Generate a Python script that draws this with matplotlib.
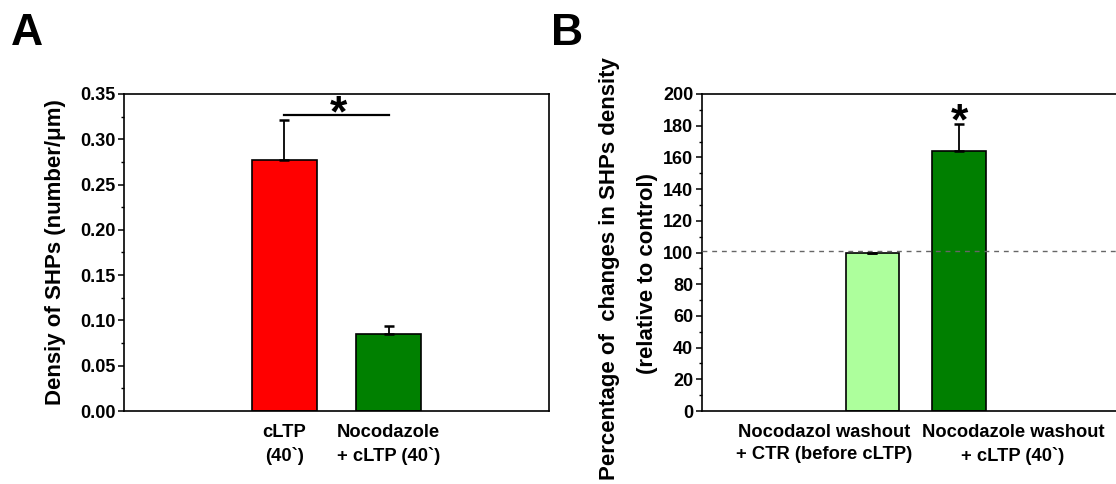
import matplotlib.pyplot as plt
import matplotlib.transforms as mtransforms
from matplotlib.ticker import MultipleLocator

# panel A data
a_labels = ["cLTP\n(40`)", "Nocodazole\n+ cLTP (40`)"]
a_values = [0.277, 0.085]
a_errors = [0.044, 0.009]
a_colors = ["#ff0000", "#008000"]
a_sig_level = 0.327

# panel B data
b_labels = ["Nocodazol washout\n+ CTR (before cLTP)", "Nocodazole washout\n+ cLTP (40`)"]
b_values = [100, 164]
b_errors = [0, 17]
b_colors = ["#adff9c", "#007f00"]
b_reference = 101

W, H = 1116, 484
plt.rcParams['font.family'] = ['Liberation Sans', 'DejaVu Sans']
plt.rcParams['font.weight'] = 'bold'

fig = plt.figure(figsize=(W / 100, H / 100), dpi=100)


def px_axes(left, top, right, bottom):
    return fig.add_axes([left / W, 1 - bottom / H, (right - left) / W, (bottom - top) / H])


def style_axes(ax, minor):
    for sp in ax.spines.values():
        sp.set_linewidth(1.2)
    ax.yaxis.set_minor_locator(MultipleLocator(minor))
    ax.tick_params(axis='y', which='major', direction='out', length=4, width=1.1,
                   labelsize=13, pad=2)
    ax.tick_params(axis='y', which='minor', direction='out', length=2.2, width=1.0)
    ax.tick_params(axis='x', which='both', length=0)
    ax.set_xticks([])
    for t in ax.get_yticklabels():
        t.set_fontweight('bold')


def draw_bars(ax, pos, values, errors, colors):
    ax.bar(pos, values, width=0.62, color=colors, edgecolor='black', linewidth=1.2, zorder=2)
    ax.errorbar(pos, values, yerr=[[0] * len(errors), errors], fmt='none', ecolor='black',
                elinewidth=1.3, capsize=3.5, capthick=1.8, zorder=3)


def star(ax, x, y, dy_pts):
    # asterisk placed just above (x, y), shifted by dy_pts points
    ax.annotate("*", (x, y), xytext=(0, dy_pts), textcoords='offset points',
                ha='center', va='baseline', fontsize=32, fontweight='bold')


def category_labels(ax, xs, labels):
    tr = mtransforms.blended_transform_factory(ax.transData, ax.transAxes)
    for x, lab in zip(xs, labels):
        ax.text(x, -0.04, lab, transform=tr, ha='center', va='top', fontsize=13.2,
                fontweight='bold', linespacing=1.43)


# ---- panel A ----
axA = px_axes(124, 94, 549, 411)
posA = [1, 2]
draw_bars(axA, posA, a_values, a_errors, a_colors)
axA.set_xlim(-0.535, 3.535)
axA.set_ylim(0, 0.35)
axA.yaxis.set_major_locator(MultipleLocator(0.05))
axA.yaxis.set_major_formatter(plt.FormatStrFormatter('%.2f'))
style_axes(axA, 0.025)
category_labels(axA, posA, a_labels)
axA.plot(posA, [a_sig_level, a_sig_level], color='black', lw=1.6, zorder=3)
star(axA, sum(posA) / 2 + 0.02, a_sig_level, -8.5)
fig.text(55 / W, 1 - 252 / H, "Densiy of SHPs (number/\u03bcm)", rotation=90,
         ha='center', va='center', fontsize=16, fontweight='bold')

# ---- panel B ----
axB = px_axes(701.7, 94, 1130, 411)
posB = [1, 2]
draw_bars(axB, posB, b_values, b_errors, b_colors)
axB.axhline(b_reference, color='#666666', lw=1.0, ls=(0, (3.5, 3.5)), zorder=4)
axB.set_xlim(-0.966, 3.966)
axB.set_ylim(0, 200)
axB.yaxis.set_major_locator(MultipleLocator(20))
style_axes(axB, 10)
category_labels(axB, [0.44, 2.62], b_labels)
star(axB, posB[1], b_values[1] + b_errors[1], -7.1)

fig.text(609.6 / W, 1 - 269 / H, "Percentage of  changes in SHPs density", rotation=90,
         ha='center', va='center', fontsize=16, fontweight='bold')
fig.text(647 / W, 1 - 273 / H, "(relative to control)", rotation=90,
         ha='center', va='center', fontsize=16, fontweight='bold')

# panel letters
fig.text(11 / W, 1 - 45 / H, "A", fontsize=32, fontweight='bold', ha='left', va='baseline')
fig.text(551 / W, 1 - 45 / H, "B", fontsize=32, fontweight='bold', ha='left', va='baseline')

fig.savefig("out.png", dpi=100)
